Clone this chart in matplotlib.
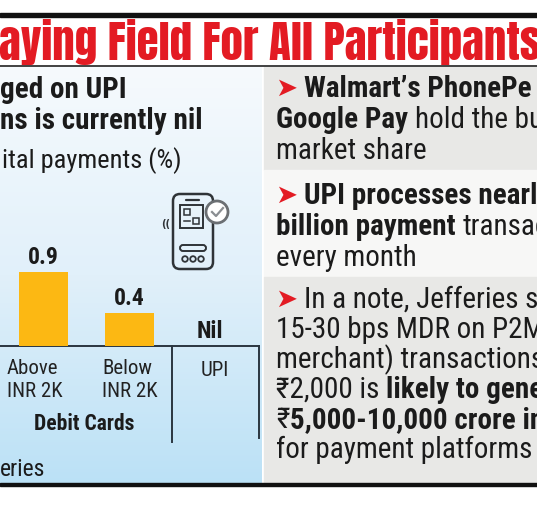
import numpy as np
import matplotlib
matplotlib.use('Agg')
import matplotlib.pyplot as plt
from matplotlib import font_manager
from matplotlib.patches import Rectangle, FancyBboxPatch, Circle
from matplotlib.colors import LinearSegmentedColormap

# chart data
categories = ['Above\nINR 2K', 'Below\nINR 2K', 'UPI']
mdr_values = [0.9, 0.4, 0.0]
value_labels = ['0.9', '0.4', 'Nil']
group_label = 'Debit Cards'

title = 'aying Field For All Participants'
heading = ['ged on UPI', 'ns is currently nil']
subheading = 'ital payments (%)'
source = 'eries'

# right-hand notes: each line is a list of (text, bold, space_after)
box1 = [
    [('Walmart\u2019s PhonePe and', True, False)],
    [('Google Pay', True, True), ('hold the bulk of', False, False)],
    [('market share', False, False)],
]
box2 = [
    [('UPI processes nearly 10', True, False)],
    [('billion payment', True, True), ('transactions', False, False)],
    [('every month', False, False)],
]
box3 = [
    [('In a note, Jefferies said', False, False)],
    [('15-30 bps MDR on P2M (person-to-', False, False)],
    [('merchant) transactions above', False, False)],
    [('\u20b92,000 is', False, True), ('likely to generate', True, False)],
    [('\u20b9', False, False), ('5,000-10,000 crore in revenue', True, False)],
    [('for payment platforms', False, False)],
]


def pick(*names):
    have = {f.name for f in font_manager.fontManager.ttflist}
    for n in names:
        if n in have:
            return n
    return 'DejaVu Sans'


BODY = pick('Roboto Condensed', 'Asap Condensed', 'Barlow Condensed')
HEAD = pick('Anton', 'Saira Extra Condensed', 'Barlow Condensed')
HEAD_W = 'normal' if HEAD == 'Anton' else 'heavy'
fam = [BODY, 'Noto Sans', 'DejaVu Sans']
BOLD = 800

RED = '#e31b23'
INK = '#1b1b1b'
GREY = '#e8e8e6'

fig = plt.figure(figsize=(5.37, 5.12), dpi=100)
ax = fig.add_axes([0, 0, 1, 1])
renderer = fig.canvas.get_renderer()

# left panel gradient
cmap = LinearSegmentedColormap.from_list('sky', ['#f6fafd', '#e1f0fa', '#bbe1f6'])
grad = np.linspace(0, 1, 256).reshape(-1, 1)
ax.imshow(grad, cmap=cmap, extent=(0, 262, 484, 67), aspect='auto', zorder=0)

# right panel boxes
ax.add_patch(Rectangle((264, 67), 273, 103, color=GREY, zorder=0))
ax.add_patch(Rectangle((264, 170), 273, 107, color='#f7f7f6', zorder=0))
ax.add_patch(Rectangle((264, 277), 273, 207, color=GREY, zorder=0))

# rules
ax.add_patch(Rectangle((0, 13), 537, 4, color='#111111', zorder=3))
ax.plot([0, 537], [65.5, 65.5], color='#333333', lw=1.3, zorder=3)
ax.add_patch(Rectangle((0, 483), 537, 3, color='#111111', zorder=3))

ax.set_xlim(0, 537)
ax.set_ylim(512, 0)
ax.axis('off')

# title, fitted to width
t = ax.text(-1, 60, title, color=RED, fontsize=40, fontweight=HEAD_W,
            family=HEAD, va='baseline', zorder=4)
w = t.get_window_extent(renderer).width
t.set_fontsize(40 * 542 / w)

# left heading
for txt, yb in zip(heading, [98, 129]):
    ax.text(0, yb, txt, fontsize=21, fontweight=BOLD, family=fam,
            color=INK, va='baseline')
ax.text(2, 168, subheading, fontsize=19, family=fam, color=INK, va='baseline')
ax.text(0, 476, source, fontsize=17, family=fam, color=INK, va='baseline')

# phone icon
ic = '#2f3337'
ax.add_patch(FancyBboxPatch((173, 194), 40, 75, boxstyle='round,pad=0,rounding_size=7',
                            fill=False, ec=ic, lw=1.8))
ax.plot([186, 199], [200, 200], color=ic, lw=1.6, solid_capstyle='round')
ax.add_patch(Rectangle((180, 205), 23, 23, fill=False, ec=ic, lw=1.4))
ax.add_patch(Rectangle((184, 209), 6, 6, fill=False, ec=ic, lw=1.1))
ax.add_patch(Rectangle((193, 218), 6, 6, fill=False, ec=ic, lw=1.1))
ax.plot([184, 190], [221, 221], color=ic, lw=1.1)
ax.add_patch(FancyBboxPatch((180, 245), 26, 6, boxstyle='round,pad=0,rounding_size=3',
                            fill=False, ec=ic, lw=1.4))
for cx in (185, 193, 201):
    ax.add_patch(Circle((cx, 259), 2.8, fill=False, ec=ic, lw=1.3))
ax.add_patch(Circle((217, 212), 11, fc='white', ec='#6b6f73', lw=2.0, zorder=5))
ax.plot([212, 216, 223], [212, 216, 208], color='#8a8e92', lw=1.6, zorder=6)
ax.text(166, 224, '((', fontsize=7, color=ic, ha='center', va='center',
        family='DejaVu Sans', fontweight='bold')

# bars
bax = fig.add_axes([0, (512 - 346) / 512, 259 / 537, 100 / 512])
bax.set_xlim(-0.5, 2.5)
bax.set_ylim(0, 100 / 82.2)
bax.axis('off')
bax.patch.set_alpha(0)
pos = np.arange(len(categories))
bax.bar(pos, mdr_values, width=0.57, color='#fcb813')
for i, (v, lab) in enumerate(zip(mdr_values, value_labels)):
    bax.annotate(lab, (pos[i] - (0.07 if lab == 'Nil' else 0), v), xytext=(0, 6),
                 textcoords='offset points', ha='center', va='baseline',
                 fontsize=17, fontweight=BOLD, family=fam, color=INK)

# axis frame
lc = '#2a3640'
ax.plot([0, 259], [346, 346], color=lc, lw=1.4, zorder=4)
ax.plot([172, 172], [346, 442], color=lc, lw=1.4, zorder=4)
ax.plot([259, 259], [346, 438], color=lc, lw=1.4, zorder=4)

# category labels (baseline of last line)
for lab, x in zip(categories[:2], [7, 102]):
    ax.text(x, 397, lab, fontsize=15, family=fam, color='#222222',
            va='baseline', linespacing=1.25)
ax.text(215, 376, categories[2], fontsize=15, family=fam, color='#222222',
        ha='center', va='baseline')
ax.text(84, 430, group_label, fontsize=15.5, fontweight=BOLD, family=fam,
        color=INK, ha='center', va='baseline')


def space_w(size, bold):
    wt = BOLD if bold else 'normal'
    a = ax.text(0, 0, 'x x', fontsize=size, family=fam, fontweight=wt)
    b = ax.text(0, 0, 'xx', fontsize=size, family=fam, fontweight=wt)
    d = a.get_window_extent(renderer).width - b.get_window_extent(renderer).width
    a.remove()
    b.remove()
    return d


def note_line(x, y, segs, size=21):
    for txt, bold, sp in segs:
        tt = ax.text(x, y, txt, fontsize=size, family=fam, color=INK,
                     fontweight=BOLD if bold else 'normal', va='baseline')
        x += tt.get_window_extent(renderer).width
        if sp:
            x += space_w(size, bold)


def box(lines, baselines):
    for k, (segs, yb) in enumerate(zip(lines, baselines)):
        if k == 0:
            ax.text(275, yb - 1, '\u27a4', fontsize=19, color=RED,
                    family=['DejaVu Sans'], va='baseline')
            note_line(304, yb, segs)
        else:
            note_line(276, yb, segs)


box(box1, [97, 128, 159])
box(box2, [204, 235, 266])
box(box3, [308, 338, 368, 398, 428, 458])

fig.savefig('out.png', dpi=100)
